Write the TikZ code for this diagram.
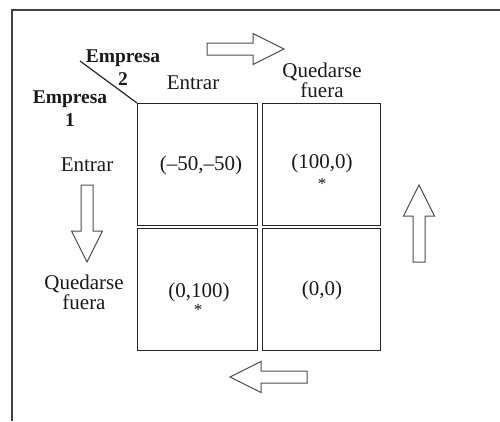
\documentclass[tikz,border=0pt]{standalone}
\usepackage{fontspec}
\setmainfont{Liberation Serif}
\usepackage{tikz}
\begin{document}
\begin{tikzpicture}[x=1pt,y=-1pt,
  ink/.style={draw=black!85, line width=1.4pt},
  cell/.style={ink, rectangle, minimum width=120pt, minimum height=122pt, inner sep=0pt, anchor=north west},
  lbl/.style={text=black!90, font=\fontsize{21}{20}\selectfont, align=center, inner sep=0pt},
  boldlbl/.style={text=black!90, font=\fontsize{19.5}{23}\selectfont\bfseries, align=center, inner sep=0pt},
  star/.style={text=black!90, font=\fontsize{17}{17}\selectfont, inner sep=0pt},
  arrowline/.style={draw=black!70, line width=1pt, fill=white, line join=miter},
  blockarrow/.pic={
    \draw[arrowline] (0,-6) -- (46,-6) -- (46,-15.5) -- (77,0) -- (46,15.5) -- (46,6) -- (0,6) -- cycle;
  }]
\useasboundingbox (0,0) rectangle (500,421);
% outer frame (open at right and bottom)
\draw[draw=black!75, line width=1.5pt] (12,421) -- (12,10) -- (500,10);

% payoff cells
\node[cell] (tl) at (137,103) {};
\node[cell, minimum width=118pt] (tr) at (262,103) {};
\node[cell] (bl) at (137,228) {};
\node[cell, minimum width=118pt] (br) at (262,228) {};

% diagonal
\coordinate (diagstart) at (80,61);
\draw[ink, line width=1.2pt] (diagstart) -- (tl.north west);

% headers
\node[boldlbl] (emp2) at (123,68) {Empresa\\2};
\node[boldlbl] (emp1) at (70,109) {Empresa\\1};
\node[lbl] (colA) at (193,83) {Entrar};
\node[lbl] (colB) at (322,80) {Quedarse\\fuera};
\node[lbl] (rowA) at (87,165) {Entrar};
\node[lbl] (rowB) at (84,292) {Quedarse\\fuera};

% payoffs
\node[lbl] (pTL) at (201,165) {(–50,–50)};
\node[lbl] (pTR) at (322,163) {(100,0)};
\node[star] (sTR) at (322,184) {*};
\node[lbl] (pBL) at (199,292) {(0,100)};
\node[star] (sBL) at (198,310) {*};
\node[lbl] (pBR) at (322,290) {(0,0)};

% block arrows
\pic at (207,49) {blockarrow};
\pic[rotate=-90] at (87,185) {blockarrow};
\pic[rotate=90] at (419,262) {blockarrow};
\pic[rotate=180] at (307,377) {blockarrow};
\end{tikzpicture}
\end{document}
